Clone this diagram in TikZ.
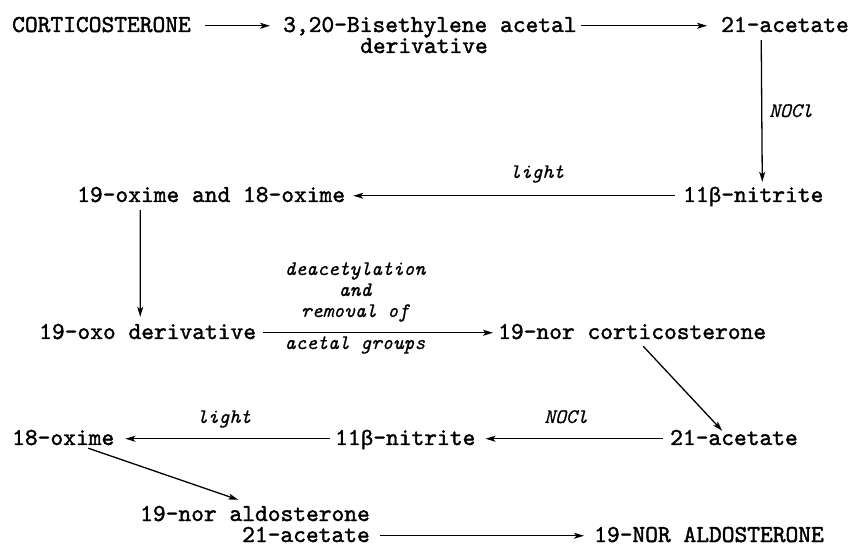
\documentclass[tikz,border=0pt]{standalone}
\usepackage{fontspec}
\newfontfamily\chemfont{lmmono10-regular.otf}[FakeBold=1.6]
\newfontfamily\lblfont{lmmono10-italic.otf}[FakeBold=0.6]
\newfontfamily\betafont{Liberation Mono}[FakeBold=0.8]
\usetikzlibrary{arrows.meta}
\tikzset{
  chem/.style={anchor=base west, inner sep=0pt, text height=12.5pt, text depth=0pt,
    font=\fontsize{24.3pt}{26pt}\chemfont},
  lbl/.style={anchor=base, inner sep=0pt, font=\fontsize{20.6pt}{22pt}\lblfont},
  lblw/.style={anchor=base west, inner sep=0pt, font=\fontsize{20.6pt}{22pt}\lblfont},
  arr/.style={line width=1.3pt, -{Stealth[length=10pt,width=6pt,inset=2.5pt]}}
}
\newcommand{\bet}{{\betafont\fontsize{21pt}{24pt}\selectfont β}}
\begin{document}
\begin{tikzpicture}[x=1pt,y=-1pt]
\useasboundingbox (0,0) rectangle (852,545);
% row 1
\node[chem] (cort)  at (12,32)  {CORTICOSTERONE};
\node[chem] (bis)   at (283,32) {3,20-Bisethylene acetal};
\node[chem] (bisd)  at (360,53) {derivative};
\node[chem] (acetA) at (721,32) {21-acetate};
% row 2
\node[chem] (nitA)  at (683,202) {11\bet-nitrite};
\node[chem] (oxA)   at (77,202)  {19-oxime and 18-oxime};
% row 3
\node[chem] (oxo)   at (39,339)  {19-oxo derivative};
\node[chem] (norc)  at (498,339) {19-nor corticosterone};
% row 4
\node[chem] (acetB) at (670,445) {21-acetate};
\node[chem] (nitB)  at (335,445) {11\bet-nitrite};
\node[chem] (oxB)   at (12,445)  {18-oxime};
% bottom
\node[chem] (ald)   at (140,521) {19-nor aldosterone};
\node[chem] (aldb)  at (242,542) {21-acetate};
\node[chem] (nor)   at (594,542) {19-NOR ALDOSTERONE};

% labels
\node[lblw] (lnoclA) at (769,117) {NOCl};
\node[lbl]  (llightA) at (537,178) {light};
\node[lbl]  (ldeac) at (355,275) {deacetylation};
\node[lbl]  (land)  at (355,296) {and};
\node[lbl]  (lrem)  at (355,317) {removal of};
\node[lbl]  (lacet) at (355,349) {acetal groups};
\node[lbl]  (llightB) at (224,423) {light};
\node[lbl]  (lnoclB) at (566,423) {NOCl};

% connectors
\draw[arr, shorten <=13.5pt, shorten >=13pt] (cort.east) -- (bis.west);
\draw[arr, shorten <=4pt, shorten >=14pt] (bis.east) -- (acetA.west);
\draw[arr] ([shift={(-23.75,8)}]acetA.south) -- ([shift={(9,-7.5)}]nitA.north);
\draw[arr, shorten <=8pt, shorten >=8pt] (nitA.west) -- (oxA.east);
\draw[arr] ([shift={(-71,8)}]oxA.south) -- ([shift={(-7.4,-9.5)}]oxo.north);
\draw[arr, shorten <=7pt, shorten >=5pt] (oxo.east) -- (norc.west);
\draw[arr] ([shift={(11,7)}]norc.south) -- ([shift={(-11.75,-1.5)}]acetB.north);
\draw[arr, shorten <=7pt, shorten >=10pt] (acetB.west) -- (nitB.east);
\draw[arr, shorten <=5pt, shorten >=11pt] (nitB.west) -- (oxB.east);
\draw[arr] ([shift={(25,3)}]oxB.south) -- ([shift={(-16.75,-8.5)}]ald.north);
\draw[arr, shorten <=10.5pt, shorten >=10pt] (aldb.east) -- (nor.west);
\end{tikzpicture}
\end{document}
